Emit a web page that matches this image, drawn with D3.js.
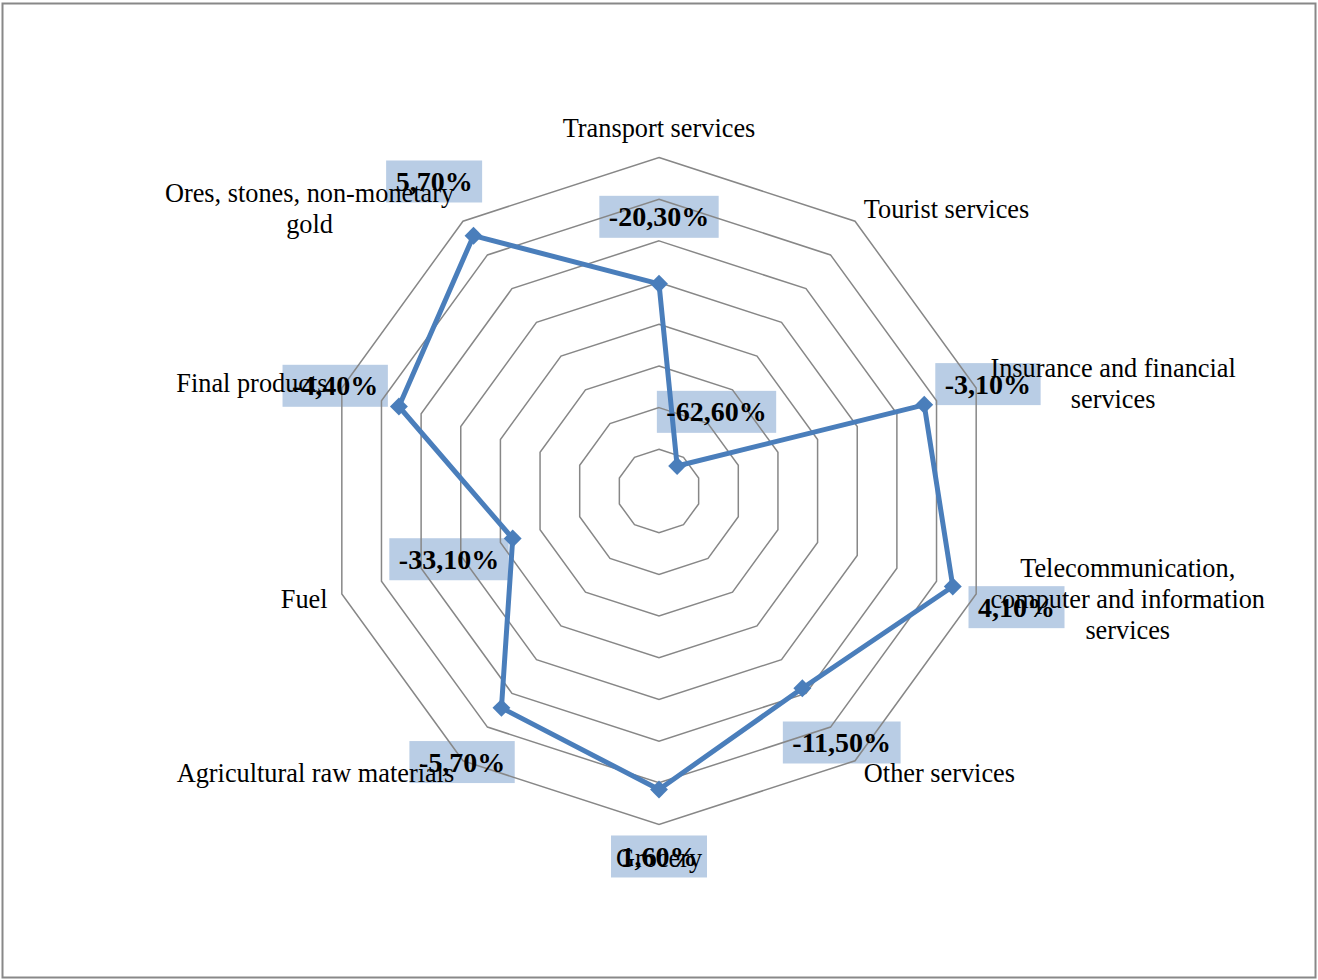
<!DOCTYPE html>
<html>
<head>
<meta charset="utf-8">
<script src="https://cdn.jsdelivr.net/npm/d3@7"></script>
<style>
  body { margin: 0; background: #fff; }
  svg { display: block; }
  .grid { fill: none; stroke: #878787; stroke-width: 1.5; }
  .cat { font-family: "Liberation Serif", "Times New Roman", serif; font-size: 26.3px; fill: #000; }
  .val { font-family: "Liberation Serif", "Times New Roman", serif; font-size: 28px; font-weight: bold; fill: #000; }
</style>
</head>
<body>
<div id="chart"></div>
<script>
  var categories = [
    'Transport services',
    'Tourist services',
    'Insurance and financial services',
    'Telecommunication, computer and information services',
    'Other services',
    'Grocery',
    'Agricultural raw materials',
    'Fuel',
    'Final products',
    'Ores, stones, non-monetary gold'
  ];
  var values = [-20.3, -62.6, -3.1, 4.1, -11.5, 1.6, -5.7, -33.1, -4.4, 5.7];
  var axisMin = -70;
  var axisMax = 10;
  var tickStep = 10;

  var w = 1318;
  var h = 980;
  var cx = 659;
  var cy = 491;
  var R = 333.5;
  var n = categories.length;

  var svg = d3.select('#chart').append('svg')
    .attr('width', w).attr('height', h);

  svg.append('rect')
    .attr('x', 2.5).attr('y', 3.5)
    .attr('width', 1313).attr('height', 974)
    .attr('fill', '#fff')
    .attr('stroke', '#888').attr('stroke-width', 2);

  var r = d3.scaleLinear().domain([axisMin, axisMax]).range([0, R]);
  var ticks = d3.range(axisMin + tickStep, axisMax + 0.001, tickStep);

  function angle(i) { return i * 2 * Math.PI / n; }
  function px(i, rad) { return cx + rad * Math.sin(angle(i)); }
  function py(i, rad) { return cy - rad * Math.cos(angle(i)); }

  var g = svg.append('g');
  var boxLayer = g.append('g');
  var gridLayer = g.append('g');
  var seriesLayer = g.append('g');
  var textLayer = g.append('g');

  // rings
  gridLayer.selectAll('polygon.grid')
    .data(ticks).enter()
    .append('polygon')
    .attr('class', 'grid')
    .attr('points', function (t) {
      return d3.range(n).map(function (i) {
        return px(i, r(t)) + ',' + py(i, r(t));
      }).join(' ');
    });

  // series
  var pts = values.map(function (v, i) { return [px(i, r(v)), py(i, r(v))]; });

  seriesLayer.append('path')
    .attr('d', d3.line()(pts) + 'Z')
    .attr('fill', 'none')
    .attr('stroke', '#4a7ebb')
    .attr('stroke-width', 5)
    .attr('stroke-linejoin', 'round');

  seriesLayer.selectAll('path.marker')
    .data(pts).enter()
    .append('path')
    .attr('class', 'marker')
    .attr('d', d3.symbol().type(d3.symbolSquare).size(160))
    .attr('transform', function (d) { return 'translate(' + d[0] + ',' + d[1] + ') rotate(45)'; })
    .attr('fill', '#4a7ebb');

  // data labels
  var labelGap = 67;
  var fmt = function (v) { return d3.format('.2f')(v).replace('\u2212', '-').replace('.', ',') + '%'; };
  values.forEach(function (v, i) {
    var lx = pts[i][0] + labelGap * Math.sin(angle(i));
    var ly = pts[i][1] - labelGap * Math.cos(angle(i));
    var txt = textLayer.append('text')
      .attr('class', 'val')
      .attr('x', lx).attr('y', ly)
      .attr('dy', '0.34em')
      .attr('text-anchor', 'middle')
      .text(fmt(v));
    var tw = txt.node().getComputedTextLength();
    boxLayer.append('rect')
      .attr('x', lx - tw / 2 - 9.5).attr('y', ly - 21)
      .attr('width', tw + 19).attr('height', 42)
      .attr('fill', '#b9cde5');
  });

  // category labels
  var lineH = 31;
  var maxW = 300;
  var catGap = 15;
  categories.forEach(function (c, i) {
    var s = Math.sin(angle(i));
    var co = Math.cos(angle(i));
    var ax = px(i, R + catGap);
    var ay = py(i, R + catGap);
    var t = textLayer.append('text').attr('class', 'cat').attr('text-anchor', 'middle');

    // wrap words into lines
    var words = c.split(' ');
    var lines = [];
    var cur = '';
    var probe = t.append('tspan');
    words.forEach(function (wd) {
      var test = cur ? cur + ' ' + wd : wd;
      probe.text(test);
      if (probe.node().getComputedTextLength() > maxW && cur) {
        lines.push(cur);
        cur = wd;
      } else {
        cur = test;
      }
    });
    lines.push(cur);
    probe.remove();

    var widths = lines.map(function (l) {
      var tmp = t.append('tspan').text(l);
      var len = tmp.node().getComputedTextLength();
      tmp.remove();
      return len;
    });
    var bw = d3.max(widths);
    var bh = lines.length * lineH;

    var centerX;
    if (s > 0.1) centerX = ax + bw / 2;
    else if (s < -0.1) centerX = ax - bw / 2;
    else centerX = ax;

    var top;
    if (Math.abs(s) <= 0.1 && co > 0) top = ay - bh + 1;
    else if (Math.abs(s) <= 0.1 && co < 0) top = ay + 3;
    else top = ay - bh / 2;

    lines.forEach(function (l, k) {
      t.append('tspan')
        .attr('x', centerX)
        .attr('y', top + k * lineH + lineH / 2)
        .attr('dy', '0.34em')
        .text(l);
    });
  });
</script>
</body>
</html>
